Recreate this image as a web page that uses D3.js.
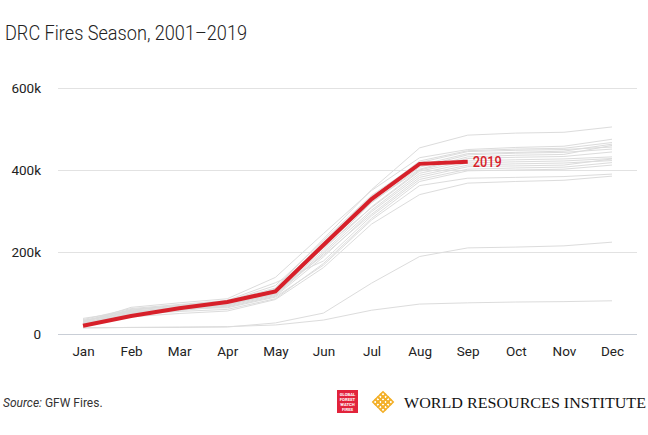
<!DOCTYPE html>
<html><head><meta charset="utf-8">
<script src="https://cdn.jsdelivr.net/npm/d3@7"></script>
<style>body{margin:0;background:#fff}svg{display:block}</style>
</head><body>
<svg id="chart" width="648" height="435"></svg>
<script>
// ---- data (cumulative fire alerts, thousands) ----
const months = ["Jan","Feb","Mar","Apr","May","Jun","Jul","Aug","Sep","Oct","Nov","Dec"];
const yTickValues = [0, 200, 400, 600];
const currentYear = "2019";
const current = [20, 44, 63, 78, 104, 217, 329, 415, 420];
const pastYears = ["2001","2002","2003","2004","2005","2006","2007","2008","2009","2010","2011","2012","2013","2014","2015","2016","2017","2018"];
const pastValues = [
  [24, 58, 70, 80, 112, 232, 352, 454, 485, 490, 492, 505],
  [28, 65, 76, 86, 138, 245, 350, 430, 450, 455, 458, 475],
  [22, 52, 64, 74, 106, 218, 332, 422, 447, 451, 453, 467],
  [26, 55, 66, 76, 110, 224, 336, 412, 440, 443, 446, 463],
  [21, 48, 60, 70, 98, 205, 320, 407, 437, 441, 443, 451],
  [30, 60, 70, 80, 118, 228, 338, 418, 445, 448, 450, 456],
  [23, 51, 64, 75, 100, 210, 308, 397, 422, 425, 427, 432],
  [25, 46, 57, 68, 94, 196, 302, 392, 417, 420, 422, 428],
  [27, 50, 60, 66, 92, 188, 298, 387, 412, 415, 417, 423],
  [32, 54, 63, 72, 96, 200, 310, 400, 428, 431, 433, 444],
  [35, 62, 72, 82, 125, 178, 288, 377, 402, 405, 407, 418],
  [29, 47, 55, 60, 86, 172, 282, 372, 398, 400, 402, 412],
  [38, 56, 62, 64, 90, 168, 278, 362, 380, 382, 384, 390],
  [22, 42, 50, 56, 84, 162, 268, 340, 368, 372, 375, 385],
  [33, 58, 68, 78, 108, 212, 322, 402, 432, 436, 438, 460],
  [31, 53, 62, 70, 102, 192, 292, 382, 408, 410, 412, 427],
  [15, 16, 16, 17, 27, 51, 124, 189, 210, 212, 215, 224],
  [15, 16, 17, 18, 22, 34, 58, 73, 76, 78, 79, 81]
];

// ---- layout ----
const svg = d3.select("#chart");
const plot = {left: 58, right: 637, top: 88, bottom: 334};
const x = d3.scalePoint().domain(months).range([83, 612]);
const y = d3.scaleLinear().domain([0, 600]).range([plot.bottom, plot.top]);
const red = "#d7202a";
const fontMain = "Roboto, 'Liberation Sans', sans-serif";

// title
svg.append("text").attr("x", 5).attr("y", 40)
  .attr("font-family", fontMain).attr("font-weight", 300)
  .attr("font-size", 21).attr("fill", "#222")
  .attr("textLength", 242).attr("lengthAdjust", "spacingAndGlyphs")
  .text("DRC Fires Season, 2001\u20132019");

// y axis + grid
const yAxis = d3.axisLeft(y).tickValues(yTickValues)
  .tickSize(-(plot.right - plot.left))
  .tickPadding(17)
  .tickFormat(d => d === 0 ? "0" : d + "k");
const gy = svg.append("g").attr("transform", `translate(${plot.left},0)`).call(yAxis);
gy.select(".domain").remove();
gy.selectAll(".tick line").attr("stroke", d => d === 0 ? "#c9ced6" : "#e2e2e2").attr("stroke-width", 1);
gy.selectAll(".tick text")
  .attr("font-family", fontMain).attr("font-size", 13.5).attr("fill", "#222");

// x axis
const xAxis = d3.axisBottom(x).tickSize(0).tickPadding(12);
const gx = svg.append("g").attr("transform", `translate(0,${plot.bottom})`).call(xAxis);
gx.select(".domain").remove();
gx.selectAll(".tick text").attr("font-family", fontMain).attr("font-size", 13.5)
  .attr("fill", "#222");

// lines
const line = d3.line().x((d, i) => x(months[i])).y(d => y(d));
svg.append("g").selectAll("path").data(pastValues).join("path")
  .attr("d", line).attr("fill", "none")
  .attr("stroke", "#dcdcdc").attr("stroke-width", 1);

svg.append("path").datum(current).attr("d", line)
  .attr("fill", "none").attr("stroke", red).attr("stroke-width", 4)
  .attr("stroke-linejoin", "miter");

svg.append("text")
  .attr("x", x(months[current.length - 1]) + 5)
  .attr("y", y(current[current.length - 1]) + 5)
  .attr("font-family", fontMain).attr("font-weight", 500)
  .attr("font-size", 15).attr("fill", red)
  .attr("textLength", 29).attr("lengthAdjust", "spacingAndGlyphs")
  .text(currentYear);

// footer source
const src = svg.append("text").attr("x", 3).attr("y", 407)
  .attr("font-family", fontMain).attr("font-size", 12).attr("fill", "#333");
src.append("tspan").attr("font-style", "italic").text("Source:");
src.append("tspan").text(" GFW Fires.");

// GFW Fires logo
const gfw = svg.append("g").attr("transform", "translate(337,390)");
gfw.append("rect").attr("width", 21).attr("height", 23).attr("fill", "#e2233b");
["GLOBAL","FOREST","WATCH","FIRES"].forEach((t, i) => {
  gfw.append("text").attr("x", 10.5).attr("y", 6 + i * 5).attr("text-anchor", "middle")
    .attr("font-family", fontMain).attr("font-weight", 700).attr("font-size", 4.2)
    .attr("fill", "#fff").text(t);
});

// WRI logo mark (lattice of diamonds)
const wri = svg.append("g").attr("transform", "translate(383,402) rotate(45)");
const n = 4, s = 3.6;
for (let i = 0; i < n; i++) for (let j = 0; j < n; j++) {
  wri.append("rect").attr("x", -n * s / 2 + i * s).attr("y", -n * s / 2 + j * s)
    .attr("width", s).attr("height", s).attr("fill", "none")
    .attr("stroke", "#f3b02a").attr("stroke-width", 1.6);
}
svg.append("text").attr("x", 404).attr("y", 408)
  .attr("font-family", "'Liberation Serif', 'DejaVu Serif', serif")
  .attr("font-size", 14).attr("fill", "#111")
  .attr("textLength", 242).attr("lengthAdjust", "spacingAndGlyphs")
  .text("WORLD RESOURCES INSTITUTE");
</script>
</body></html>
